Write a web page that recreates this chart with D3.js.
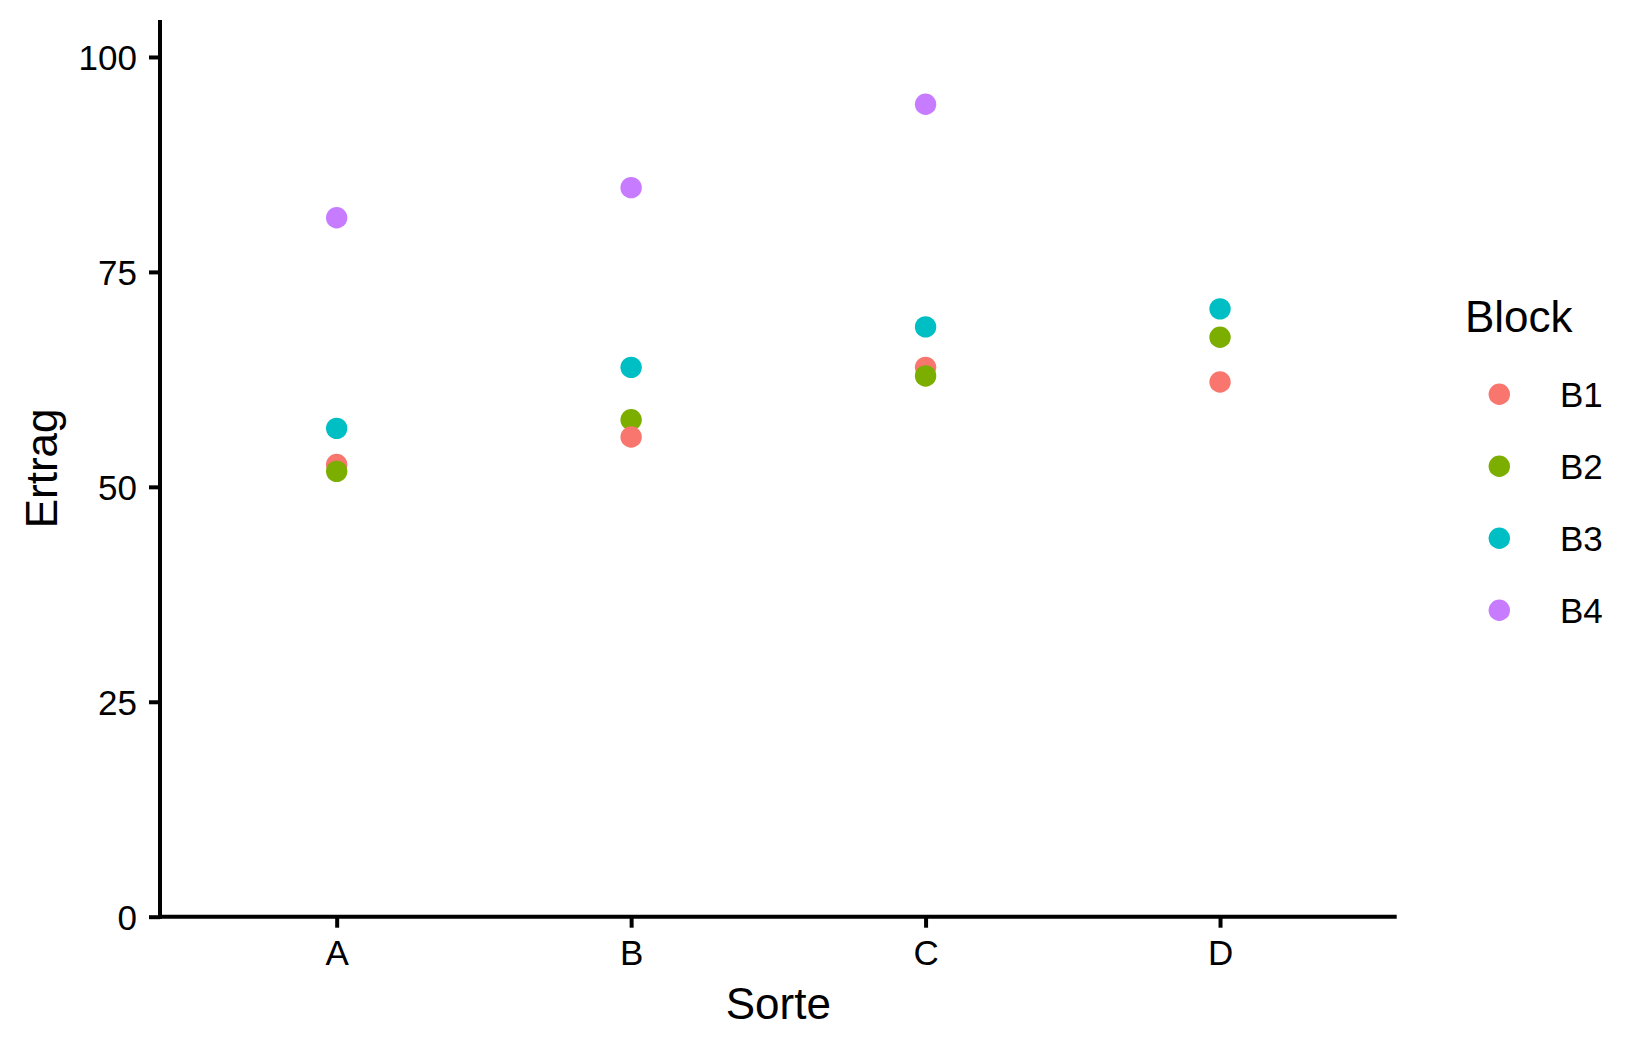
<!DOCTYPE html>
<html>
<head>
<meta charset="utf-8">
<script src="https://cdn.jsdelivr.net/npm/d3@7"></script>
<style>
  body { margin: 0; background: #fff; }
  text { font-family: "Liberation Sans", Arial, sans-serif; fill: #000; }
</style>
</head>
<body>
<svg id="screen" width="1650" height="1050"></svg>
<script>
const screenEl = document.querySelector("#screen");

// data (long format, drawn in row order)
const sorten = ["A", "B", "C", "D"];
const blocks = ["B1", "B2", "B3", "B4"];
const rowSorte  = ["A", "A", "A", "A", "B", "B", "B", "B", "C", "C", "C", "C", "D", "D", "D"];
const rowBlock  = ["B1", "B2", "B3", "B4", "B2", "B1", "B3", "B4", "B1", "B2", "B3", "B4", "B1", "B2", "B3"];
const rowErtrag = [52.6, 51.8, 56.8, 81.3, 57.8, 55.8, 63.9, 84.8, 63.9, 62.9, 68.6, 94.5, 62.2, 67.4, 70.7];
const yTicks = [0, 25, 50, 75, 100];
const colors = ["#F8766D", "#7CAE00", "#00BFC4", "#C77CFF"];

// panel
const panelLeft = 160, panelRight = 1396.7, panelTop = 20, panelBottom = 916.7;

const x = d3.scalePoint().domain(sorten).range([panelLeft, panelRight]).padding(0.6);
const y = d3.scaleLinear().domain([0, 104.3]).range([panelBottom, panelTop]);
const color = d3.scaleOrdinal().domain(blocks).range(colors);

const svg = d3.select(screenEl);

// axes
var yAxis = svg.append("g").attr("transform", "translate(" + panelLeft + ",0)")
  .call(d3.axisLeft(y).tickValues(yTicks).tickSize(11).tickPadding(12));
yAxis.select(".domain").remove();
yAxis.selectAll(".tick line").attr("stroke", "#000").attr("stroke-width", 4);
yAxis.selectAll(".tick text").attr("font-size", 35).attr("dy", "0.36em")
  .attr("font-family", "Liberation Sans, Arial, sans-serif").attr("fill", "#000");

var xAxis = svg.append("g").attr("transform", "translate(0," + panelBottom + ")")
  .call(d3.axisBottom(x).tickSize(11).tickPadding(12));
xAxis.select(".domain").remove();
xAxis.selectAll(".tick line").attr("stroke", "#000").attr("stroke-width", 4);
xAxis.selectAll(".tick text").attr("font-size", 35).attr("dy", "0.71em")
  .attr("font-family", "Liberation Sans, Arial, sans-serif").attr("fill", "#000");

svg.append("line").attr("x1", panelLeft).attr("x2", panelLeft).attr("y1", panelTop).attr("y2", panelBottom + 2)
  .attr("stroke", "#000").attr("stroke-width", 4);
svg.append("line").attr("x1", panelLeft - 2).attr("x2", panelRight).attr("y1", panelBottom).attr("y2", panelBottom)
  .attr("stroke", "#000").attr("stroke-width", 4);

// axis titles
svg.append("text").attr("x", (panelLeft + panelRight) / 2).attr("y", 1019)
  .attr("text-anchor", "middle").attr("font-size", 44).text("Sorte");
svg.append("text").attr("transform", "translate(56.7," + (panelTop + panelBottom) / 2 + ") rotate(-90)")
  .attr("text-anchor", "middle").attr("font-size", 44).text("Ertrag");

// points
svg.append("g").selectAll("circle")
  .data(d3.range(rowErtrag.length))
  .join("circle")
  .attr("cx", i => x(rowSorte[i]))
  .attr("cy", i => y(rowErtrag[i]))
  .attr("r", 10.7)
  .attr("fill", i => color(rowBlock[i]));

// legend
const legend = svg.append("g");
legend.append("text").attr("x", 1465).attr("y", 331.7).attr("font-size", 44).text("Block");
const items = legend.selectAll("g.item").data(blocks).join("g").attr("class", "item")
  .attr("transform", (d, i) => "translate(0," + (394.3 + i * 72) + ")");
items.append("circle").attr("cx", 1499.3).attr("cy", 0).attr("r", 10.7).attr("fill", d => color(d));
items.append("text").attr("x", 1560).attr("y", 0).attr("dy", "0.36em").attr("font-size", 35).text(d => d);
</script>
</body>
</html>
